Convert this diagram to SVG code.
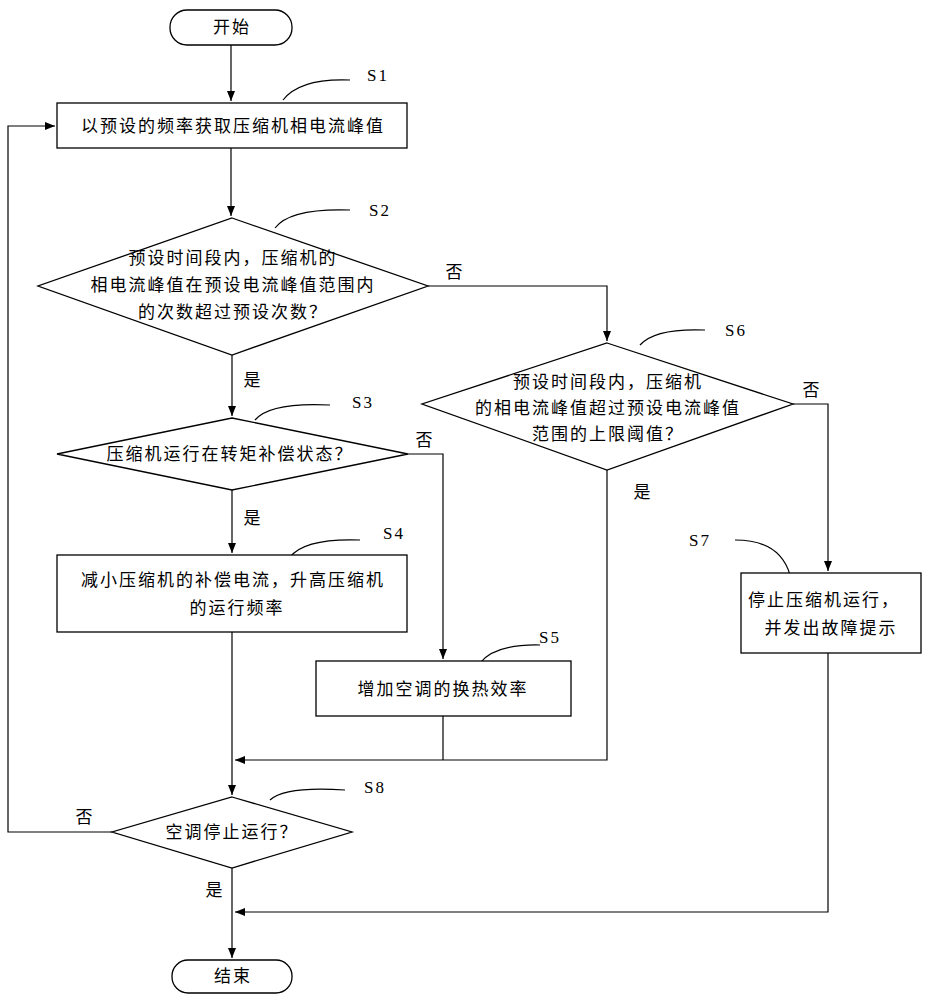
<svg xmlns="http://www.w3.org/2000/svg" width="928" height="1000" viewBox="0 0 928 1000">
<style>
.s{fill:#fff;stroke:#000;stroke-width:1.3}
.l{fill:none;stroke:#000;stroke-width:1.2}
text{font-family:"Liberation Serif","Noto Sans CJK SC",serif;font-size:17px;text-anchor:middle;fill:#000;letter-spacing:2px}
</style>
<defs><marker id="a" markerWidth="10" markerHeight="8" refX="10" refY="4" orient="auto" markerUnits="userSpaceOnUse"><path d="M0,0L10,4L0,8z"/></marker></defs>
<g id="connectors" class="l">
<path d="M231,45V101" marker-end="url(#a)"/>
<path d="M231,148V216" marker-end="url(#a)"/>
<path d="M428,286H607V341" marker-end="url(#a)"/>
<path d="M793,404H828V571" marker-end="url(#a)"/>
<path d="M607,470V760H235" marker-end="url(#a)"/>
<path d="M232,355V416" marker-end="url(#a)"/>
<path d="M408,454H443V659" marker-end="url(#a)"/>
<path d="M232,490V553" marker-end="url(#a)"/>
<path d="M443,716V760"/>
<path d="M232,632V795" marker-end="url(#a)"/>
<path d="M112,832H8V126H55" marker-end="url(#a)"/>
<path d="M232,868V958" marker-end="url(#a)"/>
<path d="M828,653V912H235" marker-end="url(#a)"/>
<path d="M283,100Q300,78 350,80"/>
<path d="M275,228Q290,208 350,210"/>
<path d="M640,345Q655,328 705,330"/>
<path d="M790,575Q780,540 735,540"/>
<path d="M255,420Q270,402 330,405"/>
<path d="M290,557Q305,538 360,540"/>
<path d="M480,663Q495,644 540,645"/>
<path d="M270,800Q285,786 345,790"/>
</g>
<g id="start"><rect class="s" x="170" y="10" width="122" height="35" rx="17"/><text x="232" y="33">开始</text></g>
<g id="s1"><rect class="s" x="57" y="103" width="350" height="45"/><text x="233" y="132">以预设的频率获取压缩机相电流峰值</text><text x="378" y="81">S1</text></g>
<g id="s2"><polygon class="s" points="232,218 428,286 232,355 38,286"/><text x="233" y="264">预设时间段内，压缩机的</text><text x="233" y="291">相电流峰值在预设电流峰值范围内</text><text x="233" y="318">的次数超过预设次数？</text><text x="380" y="216">S2</text></g>
<g id="s6"><polygon class="s" points="607,343 793,404 607,470 422,404"/><text x="608" y="388">预设时间段内，压缩机</text><text x="608" y="414">的相电流峰值超过预设电流峰值</text><text x="608" y="440">范围的上限阈值？</text><text x="736" y="336">S6</text></g>
<g id="s7"><rect class="s" x="741" y="573" width="180" height="80"/><text x="824" y="606">停止压缩机运行，</text><text x="831" y="634">并发出故障提示</text><text x="700" y="546">S7</text></g>
<g id="s3"><polygon class="s" points="232,418 408,454 232,490 57,454"/><text x="230" y="460">压缩机运行在转矩补偿状态？</text><text x="363" y="408">S3</text></g>
<g id="s4"><rect class="s" x="57" y="555" width="350" height="77"/><text x="233" y="586">减小压缩机的补偿电流，升高压缩机</text><text x="237" y="614">的运行频率</text><text x="394" y="539">S4</text></g>
<g id="s5"><rect class="s" x="316" y="661" width="255" height="55"/><text x="443" y="695">增加空调的换热效率</text><text x="550" y="643">S5</text></g>
<g id="s8"><polygon class="s" points="232,797 352,832 232,868 112,832"/><text x="232" y="838">空调停止运行？</text><text x="375" y="793">S8</text></g>
<g id="end"><rect class="s" x="172" y="960" width="120" height="33" rx="16"/><text x="233" y="982">结束</text></g>
<g id="labels"><text x="455" y="278">否</text><text x="812" y="396">否</text><text x="643" y="498">是</text><text x="253" y="386">是</text><text x="425" y="446">否</text><text x="253" y="524">是</text><text x="85" y="823">否</text><text x="215" y="896">是</text></g>
</svg>
